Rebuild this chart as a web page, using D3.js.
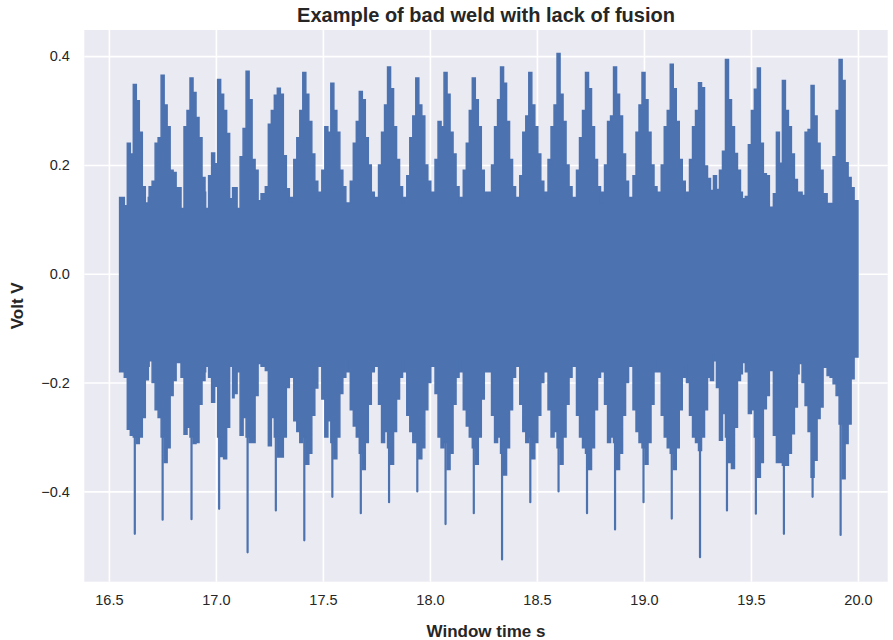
<!DOCTYPE html>
<html>
<head>
<meta charset="utf-8">
<script src="https://d3js.org/d3.v7.min.js"></script>
<style>
  body { margin: 0; background: #fff; }
  text { font-family: "Liberation Sans", Arial, sans-serif; fill: #262626; }
</style>
</head>
<body>
<script>
'use strict';

var width = 893;
var height = 640;
var margin = { top: 30, right: 5.3, bottom: 58.3, left: 84.3 };

// recording window (s)
var tStart = 16.55;
var tEnd = 20.0;

// centre of each burst, where the thin negative needle sits (s)
var burstTime = [16.621, 16.751, 16.886, 17.015, 17.148, 17.280, 17.413, 17.544, 17.677,
  17.809, 17.941, 18.073, 18.205, 18.337, 18.469, 18.601, 18.734, 18.865, 18.998,
  19.130, 19.262, 19.388, 19.523, 19.654, 19.788, 19.919];

// depth of the needle in each burst (V)
var needleLow = [-0.478, -0.452, -0.451, -0.432, -0.512, -0.435, -0.49, -0.41, -0.44,
  -0.42, -0.40, -0.46, -0.44, -0.525, -0.42, -0.40, -0.44, -0.47, -0.42,
  -0.45, -0.521, -0.435, -0.441, -0.478, -0.41, -0.48];

// envelope sample positions inside a burst, relative to its centre (s)
var stepOffsets = [-0.0631, -0.0491, -0.035, -0.021, -0.007, 0.007, 0.021, 0.035, 0.049, 0.063];

// upper envelope of the signal per burst (V)
var highLevels = [
  [0.14, 0.125, 0.24, 0.22, 0.348, 0.318, 0.26, 0.16, 0.13, 0.14],
  [0.16, 0.17, 0.24, 0.25, 0.365, 0.31, 0.27, 0.19, 0.186, 0.158],
  [0.158, 0.12, 0.27, 0.30, 0.36, 0.333, 0.287, 0.25, 0.177, 0.15],
  [0.12, 0.18, 0.222, 0.202, 0.357, 0.33, 0.30, 0.258, 0.138, 0.158],
  [0.158, 0.12, 0.215, 0.267, 0.372, 0.32, 0.21, 0.19, 0.134, 0.147],
  [0.147, 0.16, 0.275, 0.30, 0.328, 0.341, 0.33, 0.217, 0.156, 0.133],
  [0.14, 0.21, 0.25, 0.30, 0.37, 0.33, 0.28, 0.22, 0.17, 0.14],
  [0.15, 0.19, 0.27, 0.26, 0.35, 0.30, 0.26, 0.19, 0.16, 0.13],
  [0.13, 0.17, 0.24, 0.28, 0.335, 0.32, 0.25, 0.20, 0.15, 0.14],
  [0.14, 0.20, 0.26, 0.31, 0.38, 0.34, 0.27, 0.21, 0.16, 0.13],
  [0.14, 0.18, 0.25, 0.29, 0.36, 0.31, 0.29, 0.20, 0.17, 0.14],
  [0.15, 0.21, 0.28, 0.27, 0.37, 0.33, 0.26, 0.22, 0.16, 0.13],
  [0.14, 0.19, 0.24, 0.30, 0.36, 0.32, 0.27, 0.19, 0.15, 0.14],
  [0.15, 0.20, 0.27, 0.32, 0.38, 0.35, 0.28, 0.21, 0.16, 0.14],
  [0.14, 0.18, 0.26, 0.29, 0.37, 0.31, 0.27, 0.22, 0.17, 0.14],
  [0.15, 0.21, 0.27, 0.31, 0.405, 0.33, 0.28, 0.20, 0.16, 0.14],
  [0.14, 0.19, 0.25, 0.30, 0.37, 0.34, 0.27, 0.21, 0.16, 0.13],
  [0.15, 0.20, 0.28, 0.29, 0.38, 0.33, 0.29, 0.22, 0.17, 0.14],
  [0.14, 0.18, 0.26, 0.31, 0.37, 0.32, 0.26, 0.20, 0.16, 0.14],
  [0.15, 0.20, 0.27, 0.30, 0.385, 0.34, 0.28, 0.21, 0.17, 0.14],
  [0.15, 0.21, 0.27, 0.30, 0.351, 0.342, 0.198, 0.175, 0.153, 0.18],
  [0.18, 0.155, 0.19, 0.225, 0.394, 0.32, 0.27, 0.221, 0.19, 0.15],
  [0.138, 0.142, 0.237, 0.30, 0.339, 0.378, 0.24, 0.184, 0.18, 0.122],
  [0.122, 0.147, 0.26, 0.203, 0.355, 0.30, 0.27, 0.22, 0.173, 0.15],
  [0.15, 0.144, 0.26, 0.265, 0.346, 0.29, 0.24, 0.19, 0.147, 0.147],
  [0.129, 0.129, 0.215, 0.30, 0.394, 0.355, 0.204, 0.177, 0.158, 0.134]
];

// lower envelope of the signal per burst (V)
var lowLevels = [
  [-0.18, -0.19, -0.286, -0.297, -0.30, -0.312, -0.30, -0.264, -0.195, -0.17],
  [-0.16, -0.20, -0.25, -0.264, -0.30, -0.347, -0.32, -0.224, -0.196, -0.163],
  [-0.163, -0.19, -0.295, -0.282, -0.30, -0.312, -0.31, -0.24, -0.196, -0.18],
  [-0.17, -0.19, -0.236, -0.207, -0.30, -0.336, -0.34, -0.282, -0.17, -0.228],
  [-0.22, -0.18, -0.297, -0.264, -0.30, -0.31, -0.31, -0.224, -0.165, -0.17],
  [-0.17, -0.178, -0.316, -0.264, -0.30, -0.337, -0.337, -0.30, -0.209, -0.19],
  [-0.19, -0.27, -0.29, -0.31, -0.30, -0.35, -0.33, -0.26, -0.21, -0.17],
  [-0.17, -0.23, -0.30, -0.27, -0.31, -0.34, -0.30, -0.22, -0.19, -0.16],
  [-0.18, -0.25, -0.28, -0.30, -0.33, -0.36, -0.31, -0.24, -0.18, -0.17],
  [-0.17, -0.24, -0.31, -0.29, -0.32, -0.35, -0.29, -0.23, -0.19, -0.16],
  [-0.18, -0.26, -0.29, -0.31, -0.31, -0.34, -0.32, -0.25, -0.20, -0.17],
  [-0.17, -0.22, -0.30, -0.32, -0.31, -0.36, -0.33, -0.24, -0.19, -0.16],
  [-0.18, -0.25, -0.28, -0.30, -0.32, -0.35, -0.30, -0.23, -0.18, -0.17],
  [-0.18, -0.26, -0.31, -0.30, -0.33, -0.37, -0.32, -0.25, -0.19, -0.17],
  [-0.17, -0.24, -0.29, -0.31, -0.30, -0.34, -0.31, -0.26, -0.20, -0.17],
  [-0.18, -0.25, -0.30, -0.29, -0.32, -0.35, -0.30, -0.24, -0.19, -0.16],
  [-0.17, -0.26, -0.30, -0.32, -0.33, -0.36, -0.32, -0.25, -0.19, -0.17],
  [-0.18, -0.24, -0.31, -0.30, -0.31, -0.36, -0.33, -0.26, -0.20, -0.17],
  [-0.17, -0.25, -0.29, -0.31, -0.32, -0.35, -0.31, -0.24, -0.18, -0.16],
  [-0.18, -0.26, -0.30, -0.32, -0.33, -0.36, -0.32, -0.25, -0.19, -0.17],
  [-0.20, -0.26, -0.30, -0.31, -0.325, -0.30, -0.25, -0.19, -0.196, -0.16],
  [-0.15, -0.209, -0.306, -0.257, -0.30, -0.347, -0.358, -0.282, -0.196, -0.184],
  [-0.163, -0.18, -0.257, -0.25, -0.30, -0.374, -0.347, -0.248, -0.224, -0.178],
  [-0.178, -0.297, -0.347, -0.347, -0.352, -0.352, -0.33, -0.294, -0.245, -0.184],
  [-0.165, -0.20, -0.242, -0.29, -0.374, -0.343, -0.266, -0.245, -0.172, -0.172],
  [-0.187, -0.19, -0.202, -0.224, -0.276, -0.377, -0.312, -0.276, -0.193, -0.153]
];

var xTicks = [16.5, 17.0, 17.5, 18.0, 18.5, 19.0, 19.5, 20.0];
var yTicks = [-0.4, -0.2, 0.0, 0.2, 0.4];

var titleText = 'Example of bad weld with lack of fusion';
var xLabelText = 'Window time s';
var yLabelText = 'Volt V';

var LINE_COLOR = '#4c72b0';
var BG_COLOR = '#eaeaf2';

var svg = d3.select('body').append('svg')
  .attr('width', width)
  .attr('height', height);

var x = d3.scaleLinear()
  .domain([16.385, 20.139])
  .range([margin.left, width - margin.right]);

var y = d3.scaleLinear()
  .domain([-0.566, 0.448])
  .range([height - margin.bottom, margin.top]);

// plot background
svg.append('rect')
  .attr('x', margin.left)
  .attr('y', margin.top)
  .attr('width', width - margin.left - margin.right)
  .attr('height', height - margin.top - margin.bottom)
  .attr('fill', BG_COLOR);

svg.append('clipPath').attr('id', 'plot-clip')
  .append('rect')
  .attr('x', margin.left)
  .attr('y', margin.top)
  .attr('width', width - margin.left - margin.right)
  .attr('height', height - margin.top - margin.bottom);

// white grid, seaborn style
var xAxis = d3.axisBottom(x).tickValues(xTicks)
  .tickSize(-(height - margin.top - margin.bottom))
  .tickPadding(14)
  .tickFormat(d3.format('.1f'));

var yAxis = d3.axisLeft(y).tickValues(yTicks)
  .tickSize(-(width - margin.left - margin.right))
  .tickPadding(14)
  .tickFormat(function(d){ return d3.format('.1f')(d).replace('-', '\u2212'); });

var gx = svg.append('g')
  .attr('transform', 'translate(0,' + (height - margin.bottom) + ')')
  .call(xAxis);
var gy = svg.append('g')
  .attr('transform', 'translate(' + margin.left + ',0)')
  .call(yAxis);

[gx, gy].forEach(function(g){
  g.select('.domain').remove();
  g.selectAll('.tick line').attr('stroke', '#fff').attr('stroke-width', 1.6);
  g.selectAll('.tick text')
    .attr('fill', '#262626')
    .style('font-size', '14.5px');
});
gx.selectAll('.tick text').attr('dy', '0.71em').attr('y', 13);
gy.selectAll('.tick text').attr('x', -14.5);

// flatten bursts into envelope samples
var samples = [];
burstTime.forEach(function(tc, i){
  stepOffsets.forEach(function(off, k){
    samples.push({ t: tc + off, hi: highLevels[i][k], lo: lowLevels[i][k] });
  });
});
samples.sort(function(a, b){ return a.t - b.t; });
samples[0].t = tStart;
var last = samples[samples.length - 1];
samples.push({ t: tEnd, hi: last.hi, lo: last.lo });

var area = d3.area()
  .x(function(d){ return x(d.t); })
  .y0(function(d){ return y(d.lo); })
  .y1(function(d){ return y(d.hi); })
  .curve(d3.curveStepAfter);

var plot = svg.append('g').attr('clip-path', 'url(#plot-clip)');

plot.append('path')
  .datum(samples)
  .attr('d', area)
  .attr('fill', LINE_COLOR)
  .attr('stroke', LINE_COLOR)
  .attr('stroke-width', 1.5)
  .attr('stroke-linejoin', 'miter');

// thin negative needles, one per burst
plot.selectAll('.needle')
  .data(burstTime)
  .enter().append('line')
  .attr('class', 'needle')
  .attr('x1', function(d){ return x(d); })
  .attr('x2', function(d){ return x(d); })
  .attr('y1', function(d, i){ return y(lowLevels[i][4]); })
  .attr('y2', function(d, i){ return y(needleLow[i]); })
  .attr('stroke', LINE_COLOR)
  .attr('stroke-width', 2.2)
  .attr('stroke-linecap', 'round');

// labels
svg.append('text')
  .attr('x', (margin.left + width - margin.right) / 2)
  .attr('y', 22)
  .attr('text-anchor', 'middle')
  .style('font-size', '20px')
  .style('font-weight', 'bold')
  .text(titleText);

svg.append('text')
  .attr('x', (margin.left + width - margin.right) / 2)
  .attr('y', 637)
  .attr('text-anchor', 'middle')
  .style('font-size', '17px')
  .style('font-weight', 'bold')
  .text(xLabelText);

svg.append('text')
  .attr('transform', 'translate(23,' + ((margin.top + height - margin.bottom) / 2) + ') rotate(-90)')
  .attr('text-anchor', 'middle')
  .style('font-size', '17px')
  .style('font-weight', 'bold')
  .text(yLabelText);
</script>
</body>
</html>
